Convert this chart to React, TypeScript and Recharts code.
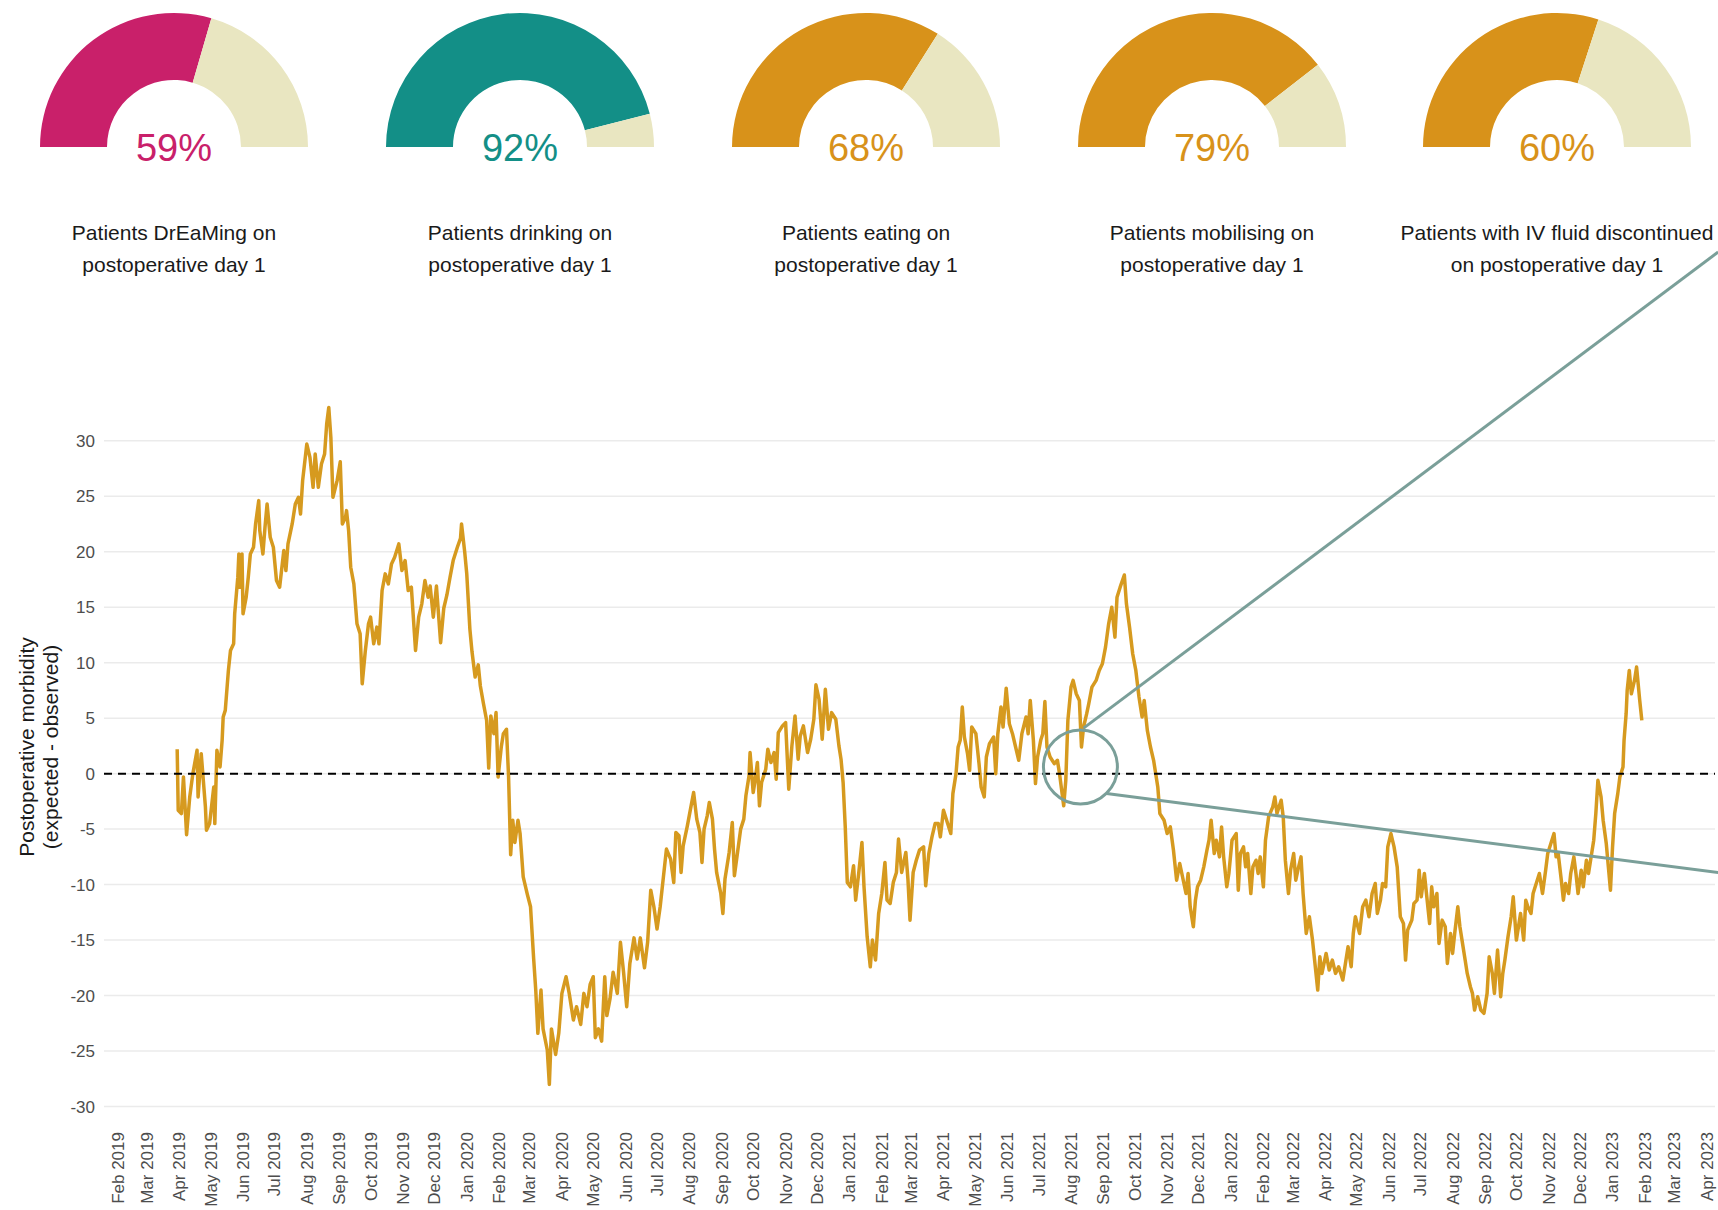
import React from 'react';
import {
  LineChart,
  Line,
  XAxis,
  YAxis,
  ReferenceLine,
  ReferenceDot,
  PieChart,
  Pie,
  Cell,
} from 'recharts';

const FONT = '"Liberation Sans", Arial, Helvetica, sans-serif';

// gauges along the top
const gaugeValues = [59, 92, 68, 79, 60];
const gaugeColors = ['#C9206A', '#138F87', '#D8921A', '#D8921A', '#D8921A'];
const gaugeCaptions = [
  ['Patients DrEaMing on', 'postoperative day 1'],
  ['Patients drinking on', 'postoperative day 1'],
  ['Patients eating on', 'postoperative day 1'],
  ['Patients mobilising on', 'postoperative day 1'],
  ['Patients with IV fluid discontinued', 'on postoperative day 1'],
];
const gaugeRest = '#E9E6C1';

// x axis: month breaks
const monthLabels = [
  'Feb 2019', 'Mar 2019', 'Apr 2019', 'May 2019', 'Jun 2019', 'Jul 2019', 'Aug 2019', 'Sep 2019',
  'Oct 2019', 'Nov 2019', 'Dec 2019',
  'Jan 2020', 'Feb 2020', 'Mar 2020', 'Apr 2020', 'May 2020', 'Jun 2020', 'Jul 2020', 'Aug 2020',
  'Sep 2020', 'Oct 2020', 'Nov 2020', 'Dec 2020',
  'Jan 2021', 'Feb 2021', 'Mar 2021', 'Apr 2021', 'May 2021', 'Jun 2021', 'Jul 2021', 'Aug 2021',
  'Sep 2021', 'Oct 2021', 'Nov 2021', 'Dec 2021',
  'Jan 2022', 'Feb 2022', 'Mar 2022', 'Apr 2022', 'May 2022', 'Jun 2022', 'Jul 2022', 'Aug 2022',
  'Sep 2022', 'Oct 2022', 'Nov 2022', 'Dec 2022',
  'Jan 2023', 'Feb 2023', 'Mar 2023', 'Apr 2023',
];
const yTicks = [-30, -25, -20, -15, -10, -5, 0, 5, 10, 15, 20, 25, 30];

// [days since 1 Feb 2019, expected - observed]
const series2019: [number, number][] = [
  [57, 2.2], [58, -3.3], [61, -3.6], [63, -0.3], [66, -5.5], [69, -2.1], [72, 0], [76, 2.1],
  [77, -2.1], [80, 1.8], [84, -3], [85, -5.1], [88, -4.5], [92, -1.2], [93, -4.5], [95, 2.1],
  [98, 0.6], [100, 3], [101, 5.1], [103, 5.7], [106, 9.3], [108, 11.1], [111, 11.7], [112, 14.4],
  [115, 17.7], [116, 19.8], [117, 16.8], [119, 19.8], [120, 14.4], [123, 15.9], [125, 17.7],
  [127, 19.8], [130, 20.4], [132, 22.5], [135, 24.6], [136, 21.9], [139, 19.8], [141, 22.2],
  [143, 24.3], [146, 21.3], [149, 20.4], [152, 17.4], [155, 16.8], [159, 20.1], [161, 18.3],
  [163, 20.7], [167, 22.5], [170, 24.3], [173, 24.9], [175, 23.4], [177, 26.4], [181, 29.7],
  [184, 28.5], [187, 25.8], [189, 28.8], [192, 25.8], [195, 27.9], [198, 28.8], [200, 31.5],
  [202, 33], [204, 30.3], [206, 24.9], [210, 26.4], [213, 28.1], [215, 22.5], [218, 23.1],
  [219, 23.7], [221, 21.9], [223, 18.6], [226, 17.1], [229, 13.5], [232, 12.6], [234, 8.1],
  [237, 11.1], [240, 13.5], [242, 14.1], [245, 11.7], [248, 13.2], [250, 11.7], [253, 16.5],
  [256, 18], [259, 17.1], [262, 18.9], [265, 19.5], [269, 20.7], [272, 18.3], [275, 19.2],
  [278, 16.5], [281, 16.8], [285, 11.1], [288, 14.1], [291, 15.3], [294, 17.4], [297, 15.9],
  [299, 16.9], [302, 14.1], [305, 16.9], [309, 11.8], [312, 14.9], [315, 16.1], [318, 17.7],
  [321, 19.2], [325, 20.4], [328, 21.2], [329, 22.5], [332, 20],
];
const series2020: [number, number][] = [
  [334, 18], [337, 13], [339, 11], [342, 8.7], [345, 9.8], [347, 7.9], [350, 6.3], [353, 4.8],
  [355, 0.5], [357, 5.2], [360, 3.6], [362, 5.5], [364, -0.3], [367, 2.4], [369, 3.6], [372, 4],
  [374, -0.3], [376, -7.3], [378, -4.2], [380, -6.2], [383, -4.2], [385, -5.4], [388, -9.3],
  [392, -10.9], [395, -12], [398, -16.7], [400, -19.5], [402, -23.4], [405, -19.5], [407, -23],
  [411, -24.9], [413, -28], [415, -23], [419, -25.3], [422, -23.4], [425, -19.8], [429, -18.3],
  [432, -19.8], [436, -22.2], [439, -21], [443, -22.6], [446, -19.8], [449, -21], [452, -19],
  [455, -18.3], [457, -23.8], [460, -23], [463, -24.1], [466, -18.3], [468, -21.8], [471, -20.3],
  [474, -17.9], [478, -19.8], [481, -15.2], [484, -17.9], [487, -21], [490, -17.1], [494, -14.8],
  [497, -16.7], [500, -14.8], [504, -17.5], [507, -15.2], [510, -10.5], [513, -12], [516, -14],
  [519, -12], [525, -6.8], [529, -7.7], [532, -9.8], [534, -5.3], [537, -5.6], [539, -8.9],
  [541, -6.5], [545, -4.7], [548, -3.2], [551, -1.7], [554, -4.1], [557, -5.3], [559, -8],
  [561, -5], [564, -3.8], [566, -2.6], [569, -4.1], [571, -6.8], [573, -8.9], [577, -10.8],
  [579, -12.6], [581, -9.5], [585, -7.1], [588, -4.4], [590, -9.2], [593, -7.1], [596, -5],
  [599, -4.1], [601, -2], [604, -0.2], [605, 1.9], [608, -1.7], [610, -0.5], [612, 1],
  [614, -2.9], [616, -0.8], [620, 0.4], [622, 2.2], [625, 1], [628, 1.9], [630, -0.5],
  [632, 3.7], [636, 4.3], [639, 4.6], [642, -1.4], [645, 2.5], [648, 5.2], [651, 1.3],
  [653, 3.4], [656, 4.3], [660, 1.9], [663, 3.1], [666, 4.9], [668, 8], [671, 6.7], [674, 3.1],
  [677, 7.6], [680, 4], [683, 5.5], [687, 4.9], [690, 2.5], [692, 1.3], [694, -0.8], [696, -4.7],
  [698, -9.8],
];
const series2021: [number, number][] = [
  [701, -10.2], [704, -8.3], [706, -11.4], [709, -8.9], [712, -6.2], [714, -10.2], [717, -14.7],
  [720, -17.4], [722, -15], [725, -16.8], [728, -12.6], [731, -10.8], [734, -8], [736, -11.4],
  [739, -11.7], [742, -9.8], [745, -8.9], [747, -5.9], [750, -8.9], [754, -7.1], [756, -9.5],
  [758, -13.2], [761, -8.9], [764, -7.8], [767, -6.9], [771, -6.6], [773, -10.1], [776, -7.2],
  [779, -5.7], [782, -4.5], [785, -4.5], [787, -5.7], [790, -3.3], [794, -4.5], [797, -5.4],
  [799, -1.8], [802, 0], [804, 2.4], [806, 3], [808, 6], [810, 3.3], [813, 1.8], [815, 0.3],
  [817, 4.2], [821, 3.6], [824, 0.9], [826, -1.2], [829, -2.1], [831, 1.5], [834, 2.7],
  [838, 3.3], [840, 0], [842, 3.6], [845, 6], [847, 4.2], [850, 7.7], [853, 4.5], [856, 3.6],
  [859, 2.4], [862, 1.2], [865, 3.6], [869, 5.1], [871, 3.6], [873, 6.6], [876, 3], [878, -0.9],
  [880, 1.5], [883, 3], [885, 3.6], [887, 6.5], [889, 2.4], [892, 1.5], [896, 0.9], [899, 1.2],
  [901, 0], [905, -2.9], [907, -0.6], [909, 4.8], [912, 7.8], [914, 8.4], [917, 7.2], [920, 6.6],
  [922, 2.4], [924, 4.2], [927, 5.4], [929, 6.3], [932, 7.8], [936, 8.4], [939, 9.3], [942, 9.9],
  [945, 11.4], [948, 13.5], [951, 15], [954, 12.3], [956, 15.9], [959, 16.8], [963, 17.9],
  [965, 15.3], [968, 13.2], [971, 10.8], [974, 9.3], [977, 6.9], [980, 5.1], [982, 6.6],
  [985, 3.9], [988, 2.4], [991, 1.2], [995, -1.2], [997, -3.6], [1001, -4.2], [1004, -5.4],
  [1007, -4.8], [1010, -6.9], [1013, -9.6], [1016, -8.1], [1018, -9], [1022, -10.8], [1024, -9],
  [1026, -12], [1029, -13.8], [1031, -11.4], [1033, -10.2], [1036, -9.6], [1039, -8.4],
  [1042, -6.9], [1044, -6], [1046, -4.2], [1049, -7.2], [1051, -6], [1054, -7.5], [1056, -4.8],
  [1058, -7.5], [1061, -10.2], [1063, -9],
];
const series2022: [number, number][] = [
  [1066, -6], [1070, -5.4], [1072, -10.5], [1074, -7.2], [1077, -6.6], [1079, -8.4], [1081, -7.2],
  [1084, -10.8], [1086, -8.4], [1089, -7.8], [1091, -9], [1093, -7.5], [1096, -10.2], [1098, -6],
  [1101, -3.9], [1105, -3], [1107, -2.1], [1109, -3.6], [1113, -2.4], [1115, -3.9], [1117, -7.8],
  [1120, -10.8], [1122, -8.7], [1125, -7.2], [1127, -9.6], [1129, -8.7], [1132, -7.5],
  [1134, -10.8], [1137, -14.4], [1140, -12.9], [1143, -15], [1145, -16.8], [1148, -19.5],
  [1150, -16.5], [1152, -18], [1156, -16.2], [1159, -17.7], [1162, -16.8], [1165, -18],
  [1168, -17.4], [1172, -18.6], [1175, -16.8], [1177, -15.6], [1180, -17.4], [1182, -14.4],
  [1184, -12.9], [1188, -14.4], [1191, -12], [1194, -11.4], [1197, -12.9], [1200, -10.8],
  [1203, -9.9], [1205, -12.6], [1208, -11.4], [1210, -9.9], [1213, -10.2], [1215, -6.6],
  [1218, -5.4], [1221, -6.6], [1224, -8.4], [1227, -12.9], [1230, -13.5], [1232, -16.8],
  [1234, -14.1], [1238, -13.2], [1240, -11.7], [1243, -11.4], [1245, -8.7], [1247, -11.1],
  [1250, -9], [1252, -10.8], [1255, -13.5], [1257, -10.2], [1259, -12], [1262, -10.8],
  [1264, -15.3], [1267, -13.2], [1270, -13.8], [1272, -17.1], [1275, -14.4], [1277, -16.2],
  [1279, -14.4], [1282, -12], [1284, -13.8], [1286, -15], [1289, -16.8], [1291, -18],
  [1294, -19.2], [1296, -19.8], [1298, -21.3], [1301, -20.1], [1304, -21.3], [1307, -21.6],
  [1310, -19.8], [1312, -16.5], [1315, -18], [1317, -19.8], [1320, -15.9], [1323, -20.1],
  [1325, -18], [1327, -16.8], [1330, -14.7], [1333, -12.9], [1335, -11.1], [1338, -15],
  [1340, -13.8], [1342, -12.6], [1345, -15], [1347, -11.4], [1349, -12], [1352, -12.6],
  [1354, -10.8], [1357, -9.9], [1360, -9], [1363, -10.8], [1366, -8.7], [1368, -7.2], [1371, -6.3],
  [1374, -5.4], [1376, -7.5], [1378, -7.2], [1381, -9.6], [1383, -11.4], [1385, -9.9],
  [1388, -10.8], [1390, -9], [1393, -7.5], [1395, -9], [1397, -10.8], [1400, -8.7], [1402, -10.2],
  [1405, -7.8], [1407, -9], [1409, -7.8], [1412, -6], [1414, -3.6], [1416, -0.6], [1419, -2.1],
  [1421, -4.2], [1424, -6.3], [1426, -8.4], [1428, -10.5],
];
const series2023: [number, number][] = [
  [1430, -6.6], [1432, -3.6], [1435, -1.8], [1437, -0.3], [1440, 0.6], [1441, 3], [1443, 5.4],
  [1444, 7.5], [1446, 9.3], [1448, 7.2], [1451, 8.4], [1453, 9.6], [1456, 6.6], [1458, 4.8],
];

// annotation (zoom circle with two leader lines), in data units
const zoomCircle = { day: 921, value: 0.6, r: 37 };
const leaderLines = [
  [{ x: 924, y: 4.1 }, { x: 1531, y: 47 }],
  [{ x: 946, y: -1.8 }, { x: 1531, y: -8.9 }],
];

const MONTHS = ['Jan', 'Feb', 'Mar', 'Apr', 'May', 'Jun', 'Jul', 'Aug', 'Sep', 'Oct', 'Nov', 'Dec'];
const ORIGIN = Date.UTC(2019, 1, 1);
const toDay = (label: string) => {
  const [m, y] = label.split(' ');
  return Math.round((Date.UTC(Number(y), MONTHS.indexOf(m), 1) - ORIGIN) / 86400000);
};
const monthTicks = monthLabels.map(toDay);
const labelByDay = new Map(monthTicks.map((d, i) => [d, monthLabels[i]]));

const data = [...series2019, ...series2020, ...series2021, ...series2022, ...series2023].map(
  ([day, value]) => ({ day, value })
);

const GOLD = '#D69A1F';
const TEAL = '#7A9F99';

const MonthTick = (props: any) => {
  const { x, y, payload } = props;
  return (
    <text
      x={x}
      y={y}
      transform={`rotate(-90 ${x} ${y})`}
      textAnchor="end"
      dy="0.35em"
      fontSize={17}
      fill="#4d4d4d"
    >
      {labelByDay.get(payload.value)}
    </text>
  );
};

const GAUGE_W = 300;
const gaugeCenters = [174, 520, 866, 1212, 1557];

export default function App() {
  return (
    <div
      style={{
        position: 'absolute',
        left: 0,
        top: 0,
        width: 1718,
        height: 1210,
        overflow: 'hidden',
        background: '#fff',
        fontFamily: FONT,
      }}
    >
      {gaugeValues.map((v, i) => (
        <div key={i} style={{ position: 'absolute', left: gaugeCenters[i] - GAUGE_W / 2, top: 0 }}>
          <PieChart width={GAUGE_W} height={160} margin={{ top: 0, right: 0, bottom: 0, left: 0 }}>
            <Pie
              data={[{ name: 'yes', value: v }, { name: 'no', value: 100 - v }]}
              dataKey="value"
              cx={GAUGE_W / 2}
              cy={147}
              startAngle={180}
              endAngle={0}
              innerRadius={67}
              outerRadius={134}
              stroke="none"
              isAnimationActive={false}
            >
              <Cell fill={gaugeColors[i]} />
              <Cell fill={gaugeRest} />
            </Pie>
          </PieChart>
        </div>
      ))}

      <div style={{ position: 'absolute', left: 0, top: 0 }}>
        <LineChart width={1718} height={1210} data={data} margin={{ top: 373, right: 3, bottom: 0, left: 24 }}>
          <XAxis
            dataKey="day"
            type="number"
            domain={[-13, 1528]}
            ticks={monthTicks}
            interval={0}
            allowDataOverflow
            height={89}
            tickLine={false}
            axisLine={false}
            tickSize={9}
            tick={<MonthTick />}
          />
          <YAxis
            type="number"
            domain={[-31.3, 36.1]}
            ticks={yTicks}
            interval={0}
            allowDataOverflow
            width={80}
            tickLine={false}
            axisLine={false}
            tickSize={7}
            tick={{ fill: '#4d4d4d', fontSize: 17 }}
          />
          {yTicks.map((t) => (
            <ReferenceLine key={`g${t}`} y={t} stroke="#EBEBEB" strokeWidth={1.5} />
          ))}
          <Line
            type="linear"
            dataKey="value"
            stroke={GOLD}
            strokeWidth={3.5}
            strokeLinejoin="round"
            dot={false}
            isAnimationActive={false}
          />
          <ReferenceLine y={0} stroke="#000" strokeWidth={2} strokeDasharray="8 6" />
          <ReferenceDot
            x={zoomCircle.day}
            y={zoomCircle.value}
            r={zoomCircle.r}
            fill="none"
            stroke={TEAL}
            strokeWidth={3}
            ifOverflow="visible"
          />
          {leaderLines.map((seg, i) => (
            <ReferenceLine key={i} segment={seg} stroke={TEAL} strokeWidth={3} ifOverflow="visible" />
          ))}
        </LineChart>
      </div>

      <svg
        width={1718}
        height={1210}
        style={{ position: 'absolute', left: 0, top: 0, pointerEvents: 'none' }}
      >
        {gaugeValues.map((v, i) => (
          <g key={i}>
            <text x={gaugeCenters[i]} y={161} textAnchor="middle" fontSize={38} fill={gaugeColors[i]}>
              {v}%
            </text>
            <text x={gaugeCenters[i]} y={240} textAnchor="middle" fontSize={21} fill="#1a1a1a">
              {gaugeCaptions[i][0]}
            </text>
            <text x={gaugeCenters[i]} y={272} textAnchor="middle" fontSize={21} fill="#1a1a1a">
              {gaugeCaptions[i][1]}
            </text>
          </g>
        ))}
        <text transform="translate(34 747) rotate(-90)" textAnchor="middle" fontSize={21} fill="#1a1a1a">
          Postoperative morbidity
        </text>
        <text transform="translate(58 747) rotate(-90)" textAnchor="middle" fontSize={21} fill="#1a1a1a">
          (expected - observed)
        </text>
      </svg>
    </div>
  );
}
